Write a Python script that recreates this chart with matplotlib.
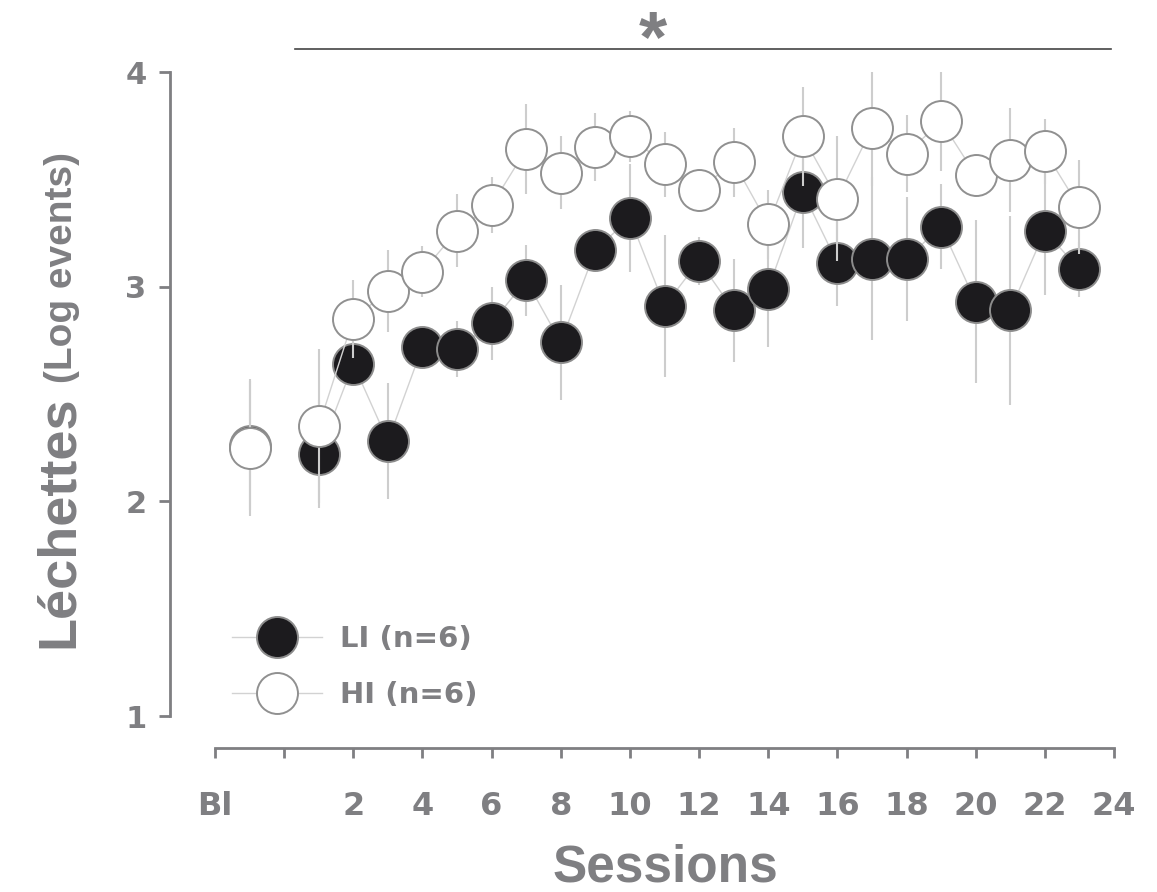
import numpy as np
import matplotlib
matplotlib.use('Agg')
import matplotlib.pyplot as plt
from matplotlib.lines import Line2D

# session means (log events) and SEM, first value is the baseline (Bl)
sessions = np.arange(1, 24)
bl_pos = -1
li_mean = [2.26, 2.22, 2.64, 2.28, 2.72, 2.71, 2.83, 3.03, 2.74, 3.17, 3.32, 2.91,
           3.12, 2.89, 2.99, 3.44, 3.11, 3.13, 3.13, 3.28, 2.93, 2.89, 3.26, 3.08]
li_sem = [0.30, 0.25, 0.10, 0.27, 0.08, 0.13, 0.17, 0.165, 0.27, 0.10, 0.25, 0.33,
          0.11, 0.24, 0.27, 0.26, 0.20, 0.38, 0.29, 0.20, 0.38, 0.44, 0.30, 0.13]
hi_mean = [2.25, 2.35, 2.85, 2.98, 3.07, 3.26, 3.38, 3.64, 3.53, 3.65, 3.70, 3.57,
           3.45, 3.58, 3.29, 3.70, 3.41, 3.74, 3.62, 3.77, 3.52, 3.59, 3.63, 3.37]
hi_sem = [0.32, 0.36, 0.18, 0.19, 0.12, 0.17, 0.13, 0.21, 0.17, 0.16, 0.12, 0.15,
          0.10, 0.16, 0.16, 0.23, 0.29, 0.27, 0.18, 0.23, 0.10, 0.24, 0.15, 0.22]
xticks = np.arange(-2, 25, 2)
xticklabels = ['Bl', ''] + [str(i) for i in range(2, 25, 2)]
yticks = [1, 2, 3, 4]
labels = ['LI (n=6)', 'HI (n=6)']
sig_range = [0.3, 23.9]

grey = '#7f7f82'
err_c = '#cdcdcd'
line_c = '#d2d2d2'
font = 'Liberation Sans'
tfont = 'DejaVu Sans'

W, H = 1157, 892
fig = plt.figure(figsize=(W / 100, H / 100), dpi=100)
ax = fig.add_axes([215 / W, 1 - 716 / H, (1114 - 215) / W, (716 - 72) / H])

x_all = np.concatenate([[bl_pos], sessions])

def draw_group(mean, sem, face, edge, z):
    ax.errorbar(x_all, mean, yerr=sem, fmt='none', ecolor=err_c, elinewidth=1.5,
                capsize=0, zorder=z)
    ax.plot(sessions, mean[1:], '-', color=line_c, lw=1.0, zorder=z + 0.1)
    ax.plot(x_all, mean, 'o', ls='none', ms=29.5, mfc=face, mec=edge, mew=1.4,
            zorder=z + 0.2, clip_on=False)

draw_group(li_mean, li_sem, '#1c1b1e', '#8c8c8c', 2)
draw_group(hi_mean, hi_sem, 'white', '#909090', 3)

ax.set_xlim(-2, 24)
ax.set_ylim(1, 4)

for s in ['top', 'right']:
    ax.spines[s].set_visible(False)
ax.spines['left'].set_position(('outward', 45 * 0.72))
ax.spines['bottom'].set_position(('outward', 32 * 0.72))
ax.spines['left'].set_bounds(1, 4)
ax.spines['bottom'].set_bounds(-2, 24)
for s in ['left', 'bottom']:
    ax.spines[s].set_color(grey)
    ax.spines[s].set_linewidth(2.0)

ax.set_xticks(xticks)
ax.set_xticklabels(xticklabels)
ax.set_yticks(yticks)
ax.set_yticklabels([str(v) for v in yticks])
ax.tick_params(axis='x', length=7, width=2, color=grey, pad=24)
ax.tick_params(axis='y', length=8, width=2, color=grey, pad=9)
for lab in ax.get_xticklabels():
    lab.set_fontfamily(tfont)
    lab.set_fontweight('bold')
    lab.set_fontsize(23)
    lab.set_color(grey)
for lab in ax.get_yticklabels():
    lab.set_fontfamily(tfont)
    lab.set_fontweight('bold')
    lab.set_fontsize(22)
    lab.set_color(grey)

# significance bar
ax.plot(sig_range, [4.107, 4.107], color='#444444', lw=1.2, clip_on=False)
ax.text(np.mean(sig_range) - 1.43, 3.98, '*', ha='center', va='bottom', fontsize=52,
        fontweight='bold', color=grey, family=font, clip_on=False)

# axis titles
fig.text(665 / W, 1 - 882 / H, 'Sessions', ha='center', va='baseline', fontsize=37,
         fontweight='bold', color=grey, family=font)
fig.text(73 / W, 1 - 648 / H, 'Léchettes', rotation=90, rotation_mode='anchor',
         ha='left', va='baseline', fontsize=39, fontweight='bold', color=grey, family=font)
fig.text(72 / W, 1 - 383 / H, '(Log events)', rotation=90, rotation_mode='anchor',
         ha='left', va='baseline', fontsize=28, fontweight='bold', color=grey, family=font)

handles = [Line2D([], [], color=line_c, lw=1.0, marker='o', ms=29.5, mfc='#1c1b1e',
                  mec='#8c8c8c', mew=1.4),
           Line2D([], [], color=line_c, lw=1.0, marker='o', ms=29.5, mfc='white',
                  mec='#909090', mew=1.4)]
leg = ax.legend(handles, labels, loc='upper left',
                bbox_to_anchor=((232 - 215) / 899, (716 - 625) / 644),
                frameon=False, borderpad=0, borderaxespad=0, handlelength=3.08,
                handletextpad=0.62, labelspacing=0.96,
                prop={'family': tfont, 'weight': 'bold', 'size': 21})
for t in leg.get_texts():
    t.set_color(grey)

fig.savefig('out.png', dpi=100)
